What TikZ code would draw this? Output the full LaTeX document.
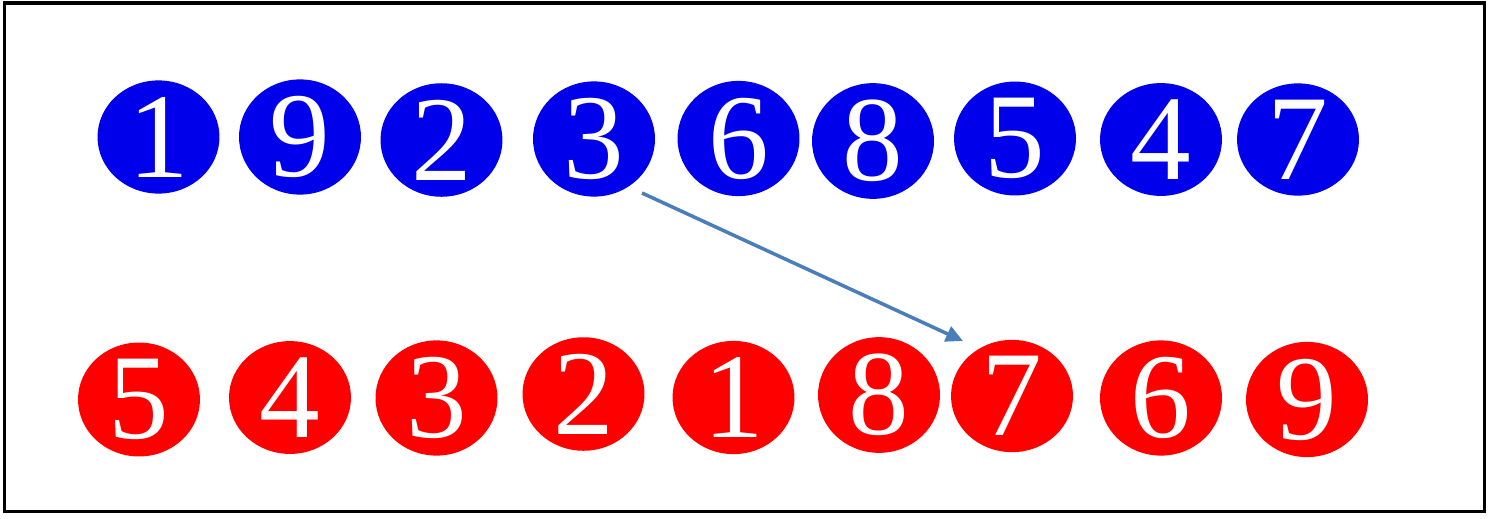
\documentclass[tikz,border=0pt]{standalone}
\usepackage{fontspec}
\usepackage{tikz}
\usetikzlibrary{shapes.geometric,arrows.meta}
\newfontfamily\digitfont{Liberation Serif}
\definecolor{discblue}{RGB}{0,0,235}
\definecolor{discred}{RGB}{255,0,0}
\definecolor{arrowblue}{RGB}{74,126,187}

\begin{document}
\begin{tikzpicture}[x=0.02cm, y=-0.02cm]
      \tikzstyle{arrow} = [line width=2pt, arrowblue, -{Triangle[length=0.34cm, width=0.32cm]}]
      \tikzstyle{disc} = [ellipse, minimum width=2.44cm, minimum height=2.16cm, inner sep=0pt, text=white, font=\digitfont\fontsize{69}{69}\selectfont]
      \tikzstyle{bluedisc} = [disc, fill=discblue]
      \tikzstyle{reddisc} = [disc, fill=discred]

      \useasboundingbox (0,0) rectangle (1501,518);
      \draw[line width=2pt] (4.5,3) rectangle (1484.5,511.5);

       \foreach \i/\x/\y/\d in {1/158.5/137/1, 2/300/137/9, 3/441.5/140/2, 4/594/139/3, 5/738.5/138.5/6, 6/873/141/8, 7/1015/138.5/5, 8/1161/139.5/4, 9/1298/139.5/7}
       {
         \node[bluedisc] (B-\i) at (\x,\y) {\d};
       }

       \foreach \i/\x/\y/\d in {1/139/399.5/5, 2/290/397.5/4, 3/436.5/398/3, 4/583.5/394/2, 5/733.5/397.5/1, 6/879/395/8, 7/1012/396/7, 8/1161/398/6, 9/1307/399.5/9}
       {
         \node[reddisc] (R-\i) at (\x,\y) {\d};
       }

       \draw [arrow] ([shift={(48,54)}]B-4.center) -- ([shift={(-49,-55)}]R-7.center);
  \end{tikzpicture}
\end{document}
